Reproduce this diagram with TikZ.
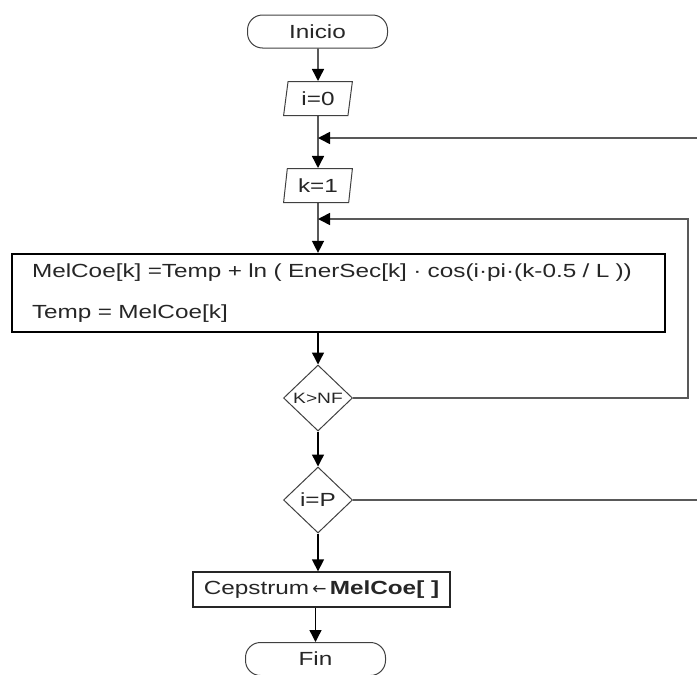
\documentclass[tikz,border=0pt]{standalone}
\usepackage{fontspec}
\setmainfont[FakeStretch=1.28]{Liberation Sans}
\newfontfamily\arrowfont{DejaVu Sans}

\usetikzlibrary{shapes.geometric,arrows.meta}

\begin{document}
\begin{tikzpicture}[x=1pt,y=-1pt,
  every node/.style={text=black!85},
  basefont/.style={font=\fontsize{19}{22}\selectfont},
  terminal/.style={draw=black!75,line width=1pt,rectangle,rounded corners=15pt,
    minimum width=140pt,minimum height=33pt,inner sep=0pt,basefont},
  io/.style={draw=black!75,line width=1pt,trapezium,trapezium left angle=80,
    trapezium right angle=100,trapezium stretches=true,
    minimum width=69pt,minimum height=34pt,inner sep=0pt,basefont},
  procbox/.style={draw=black,line width=2.2pt,rectangle,minimum width=653pt,
    minimum height=78pt,inner xsep=20pt,inner ysep=0pt,text width=613pt,align=left,
    font=\fontsize{19}{41}\selectfont},
  decision/.style={draw=black!75,line width=1pt,diamond,minimum width=69pt,
    minimum height=66pt,inner sep=0pt},
  simplebox/.style={draw=black!85,line width=1.3pt,rectangle,minimum width=257pt,
    minimum height=35pt,inner sep=0pt,basefont},
  flow/.style={draw=black,line width=1.4pt,-{Triangle[length=12pt,width=12pt]}},
  loopline/.style={draw=black!65,line width=1.6pt},
  looparrow/.style={loopline,-{Triangle[length=12pt,width=12pt,fill=black,color=black]}}
]
\useasboundingbox (0,0) rectangle (697,675);

% main column
\node[terminal] (inicio) at (317.5,31.5) {Inicio};
\node[io] (i0) at (318,98.5) {i=0};
\node[io] (k1) at (318,185.5) {k=1};
\node[procbox] (calc) at (338.5,293)
  {MelCoe[k] =Temp + ln ( EnerSec[k] · cos(i·pi·(k-0.5 / L ))\\
   Temp = MelCoe[k]};
\node[decision,font=\fontsize{15}{17}\selectfont] (kNF) at (318,398) {K>NF};
\node[decision,basefont] (iP) at (318,500) {i=P};
\node[simplebox] (ceps) at (321.5,589.5)
  {Cepstrum\,{\arrowfont\fontsize{17}{19}\selectfont ←}\,\textbf{MelCoe[ ]}};
\node[terminal] (fin) at (315.5,659) {Fin};

% loop junctions and outer corners
\coordinate (jo) at (318,138);
\coordinate (ji) at (318,219);
\coordinate (outerR) at (697,138);
\coordinate (innerR) at (688,219);

% connectors
\draw[flow] (inicio.south -| i0) -- (i0.north);
\draw[flow] (i0.south) -- (k1.north);
\draw[flow] (k1.south) -- (calc.north -| k1);
\draw[flow] (calc.south -| kNF) -- (kNF.north);
\draw[flow] (kNF.south) -- (iP.north);
\draw[flow] (iP.south) -- (ceps.north -| iP);
\draw[flow] (ceps.south -| fin) -- (fin.north);

% return paths
\draw[looparrow] (outerR) -- (jo);
\draw[looparrow] (kNF.east) -- (kNF.east -| innerR) -- (innerR) -- (ji);
\draw[loopline] (iP.east) -- (iP.east -| outerR);
\end{tikzpicture}
\end{document}
